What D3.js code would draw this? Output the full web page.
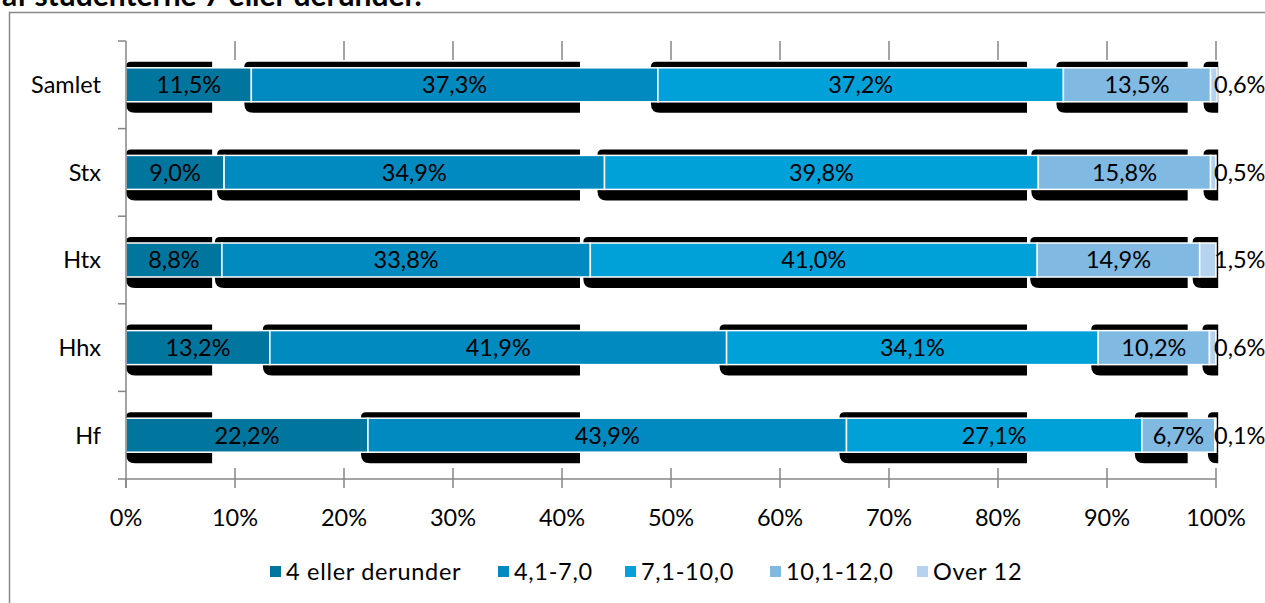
<!DOCTYPE html>
<html><head><meta charset="utf-8">
<script src="https://cdn.jsdelivr.net/npm/d3@7"></script>
<style>body{margin:0;background:#fff;overflow:hidden}svg{display:block}</style>
</head><body>
<svg id="c" width="1265" height="603"></svg>
<script>
const categories = ["Samlet","Stx","Htx","Hhx","Hf"];
const seriesNames = ["4 eller derunder","4,1-7,0","7,1-10,0","10,1-12,0","Over 12"];
const s0 = [11.5, 9.0, 8.8, 13.2, 22.2];
const s1 = [37.3, 34.9, 33.8, 41.9, 43.9];
const s2 = [37.2, 39.8, 41.0, 34.1, 27.1];
const s3 = [13.5, 15.8, 14.9, 10.2, 6.7];
const s4 = [0.6, 0.5, 1.5, 0.6, 0.1];
const xTicks = [0,10,20,30,40,50,60,70,80,90,100];
const title = "af studenterne 7 eller derunder.";

// style
const colors = ["#00769F","#008ABF","#00A0D8","#80B9E1","#B5D3EE"];
const shadowEnd = [7.9, 41.65, 82.66, 97.4, 100.2]; // rendering artefact ends (axis units)
const font = "Lato, 'Open Sans', sans-serif";
const fs = 23.5;

const svg = d3.select("#c");
const series = [s0,s1,s2,s3,s4];
const fmt = v => v.toFixed(1).replace(".", ",") + "%";

svg.append("rect").attr("x",9.5).attr("y",12.5).attr("width",1300).attr("height",700)
  .attr("fill","none").attr("stroke","#888").attr("stroke-width",1.5);
svg.append("text").attr("x",2).attr("y",6).attr("font-family",font).attr("font-weight","bold")
  .attr("font-size",30).attr("fill","#000").text(title);

const x = d3.scaleLinear().domain([0,100]).range([126,1216]);
const y = d3.scaleBand().domain(categories).range([41,479]).paddingInner(0).paddingOuter(0);
const barH = 34;

const stacks = categories.map((c,i)=>{
  let acc = 0;
  return series.map((s,k)=>{ const a = acc; acc += s[i]; return {cat:c,k,v:s[i],x0:a,x1:acc}; });
});

const g = svg.append("g");
g.selectAll(".tt").data(xTicks.slice(1)).join("line")
  .attr("x1",d=>x(d)).attr("x2",d=>x(d)).attr("y1",41).attr("y2",60)
  .attr("stroke","#868686").attr("stroke-width",1.5);

function shadowPath(xs, xe, yt, yb){
  const r1 = 5, r2 = 9;
  if (xe - xs < r2) { return `M${xs},${yt}H${xe}V${yb}H${xs}Z`; }
  return `M${xs+r1},${yt}H${xe}V${yb}H${xs+r2}Q${xs},${yb} ${xs},${yb-r2}V${yt+r1}Q${xs},${yt} ${xs+r1},${yt}Z`;
}

stacks.forEach(row=>{
  const cy = y(row[0].cat) + y.bandwidth()/2;
  const top = cy - barH/2, bot = cy + barH/2;
  const rg = g.append("g");
  rg.selectAll(".sh").data(row).join("path")
    .attr("d", d=>{
      const xs = Math.max(x(d.x0) - (d.k===0?0:7), x(0));
      const xe = x(shadowEnd[d.k]);
      if (xe <= xs) return null;
      return shadowPath(xs, xe, top-6, bot+11);
    }).attr("fill","#000");
  rg.selectAll(".bar").data(row).join("rect")
    .attr("x", d=>x(d.x0)).attr("width", d=>x(d.x1)-x(d.x0))
    .attr("y", top).attr("height", barH)
    .attr("fill", d=>colors[d.k]).attr("stroke","#fff").attr("stroke-width",1.5);
  rg.selectAll(".lbl").data(row).join("text")
    .attr("x", d=> d.k===4 ? x(100)-2 : (x(d.x0)+x(d.x1))/2)
    .attr("y", cy).attr("dy","0.36em")
    .attr("text-anchor", d=> d.k===4 ? "start" : "middle")
    .attr("font-family",font).attr("font-size",fs).attr("fill","#000")
    .text(d=>fmt(d.v));
});

// y axis
g.append("line").attr("x1",126).attr("x2",126).attr("y1",41).attr("y2",488)
  .attr("stroke","#868686").attr("stroke-width",1.5);
const yb = d3.range(categories.length+1).map(i=>41 + i*y.step());
g.selectAll(".yt").data(yb).join("line")
  .attr("x1",118).attr("x2",126).attr("y1",d=>d).attr("y2",d=>d)
  .attr("stroke","#868686").attr("stroke-width",1.5);
g.selectAll(".yl").data(categories).join("text")
  .attr("x",101).attr("y",d=>y(d)+y.bandwidth()/2).attr("dy","0.36em")
  .attr("text-anchor","end").attr("font-family",font).attr("font-size",fs).attr("fill","#000")
  .text(d=>d);

// x axis
g.append("line").attr("x1",126).attr("x2",1216).attr("y1",479).attr("y2",479)
  .attr("stroke","#868686").attr("stroke-width",1.5);
g.selectAll(".xt").data(xTicks).join("line")
  .attr("x1",d=>x(d)).attr("x2",d=>x(d)).attr("y1",d=>d===0?479:468).attr("y2",488)
  .attr("stroke","#868686").attr("stroke-width",1.5);
g.selectAll(".xl").data(xTicks).join("text")
  .attr("x",d=>x(d)).attr("y",518).attr("dy","0.36em").attr("text-anchor","middle")
  .attr("font-family",font).attr("font-size",fs).attr("fill","#000").text(d=>d+"%");

// legend
const legX = [270, 498, 625, 770, 917];
const lg = svg.append("g");
seriesNames.forEach((n,i)=>{
  lg.append("rect").attr("x",legX[i]).attr("y",566).attr("width",11).attr("height",11).attr("fill",colors[i]);
  lg.append("text").attr("x",legX[i]+16).attr("y",572).attr("dy","0.36em")
    .attr("font-family",font).attr("font-size",fs).attr("letter-spacing",0.7).attr("fill","#000").text(n);
});
</script>
</body></html>
